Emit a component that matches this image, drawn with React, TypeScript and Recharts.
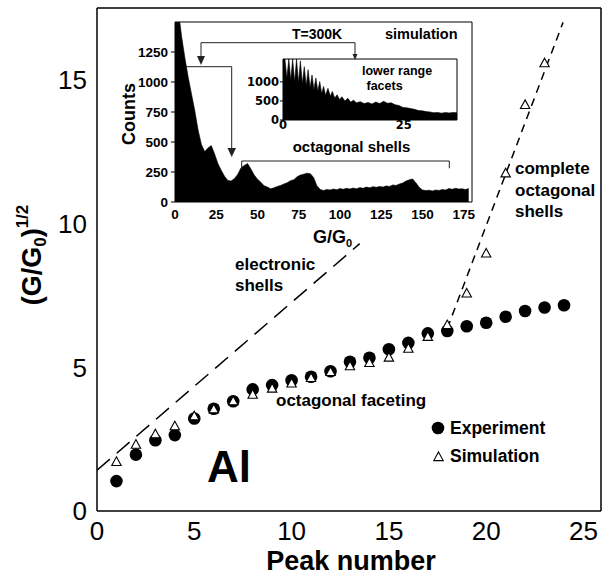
import React from 'react';
import { ComposedChart, Scatter, Line, XAxis, YAxis, AreaChart, Area } from 'recharts';

const FONT = '"Liberation Sans", Arial, Helvetica, sans-serif';
const WIDE = '"DejaVu Sans", Verdana, sans-serif';

// ---- main chart data ----
const peakNumbers = [1, 2, 3, 4, 5, 6, 7, 8, 9, 10, 11, 12, 13, 14, 15, 16, 17, 18, 19, 20, 21, 22, 23, 24];
const experimentValues = [1.04, 1.96, 2.46, 2.64, 3.22, 3.56, 3.82, 4.23, 4.38, 4.55, 4.67, 4.86, 5.19, 5.33, 5.63, 5.85, 6.18, 6.26, 6.43, 6.55, 6.76, 6.96, 7.08, 7.16];
const simulationValues = [1.71, 2.31, 2.67, 2.95, 3.3, 3.54, 3.82, 4.05, 4.26, 4.44, 4.63, 4.84, 5.04, 5.15, 5.34, 5.65, 6.06, 6.47, 7.57, 8.96, 11.75, 14.13, 15.58];
const electronicShellsLine = [{ x: 0, y: 1.42 }, { x: 13.5, y: 9.3 }];
const octagonalShellsLine = [{ x: 18.0, y: 6.35 }, { x: 23.95, y: 17.0 }];
const xTicks = [0, 5, 10, 15, 20, 25];
const yTicks = [0, 5, 10, 15];
const yMinorTicks = [0, 2.5, 5, 7.5, 10, 12.5, 15, 17.5];

// ---- inset histogram (G/G0 vs counts) ----
const histG = [0, 2, 4, 6, 8, 10, 12, 14, 16, 18, 20, 22, 24, 26, 28, 30, 32, 34, 36, 38, 40, 42, 44, 46, 48, 50, 52, 54, 56, 58, 60, 62, 64, 66, 68, 70, 72, 74, 76, 78, 80, 82, 84, 86, 88, 90, 92, 94, 96, 98, 100, 102, 104, 106, 108, 110, 112, 114, 116, 118, 120, 122, 124, 126, 128, 130, 132, 134, 136, 138, 140, 142, 144, 146, 148, 150, 152, 154, 156, 158, 160, 162, 164, 166, 168, 170, 172, 174, 176, 178];
const histCounts = [1600, 1600, 1380, 1200, 1040, 900, 760, 600, 480, 420,
  450, 470, 400, 320, 265, 215, 180, 175, 195, 230,
  285, 305, 320, 275, 225, 190, 165, 135, 125, 110,
  118, 130, 138, 150, 160, 178, 185, 210, 225, 232,
  240, 236, 205, 135, 105, 96, 104, 100, 108, 102,
  112, 106, 114, 108, 116, 110, 120, 114, 124, 118,
  128, 122, 130, 124, 134, 130, 142, 138, 150, 158,
  175, 185, 192, 160, 122, 100, 95, 98, 92, 100,
  96, 104, 100, 112, 106, 114, 108, 110, 104, 112];
const histXTicks = [0, 25, 50, 75, 100, 125, 150, 175];
const histYTicks = [0, 250, 500, 750, 1000, 1250];

// ---- inner inset: lower range facets ----
const lowG = [0, 0.4, 0.8, 1.2, 1.6, 2.0, 2.4, 2.8, 3.2, 3.6, 4.0, 4.4, 4.8, 5.2, 5.6, 6.0, 6.4, 6.8, 7.2, 7.6, 8.0, 8.4, 8.8,
  9.3, 9.8, 10.2, 10.7, 11.2, 11.7, 12.2,
  12.8, 13.4, 14, 14.6, 15.2,
  16, 16.8, 17.6, 18.4, 19.2, 20, 20.8, 21.6, 22.4, 23.2, 24, 24.8, 25.6, 26.4, 27.2, 28, 28.8, 29.6, 30.4, 31.2, 32, 32.8, 33.6, 34.4, 35.2, 36];
const lowCounts = [1600, 1600, 1100, 1600, 1050, 1600, 1000, 1600, 980, 1550, 950, 1400, 900, 1320, 850, 1180, 800, 1100, 760, 1010, 700, 880, 650,
  830, 620, 750, 580, 660, 540, 610,
  500, 570, 470, 520, 450,
  480, 430, 460, 420, 470, 430, 490, 440, 450, 400, 380, 330, 320, 300, 280, 250, 240, 220, 210, 190, 200, 180, 195, 185, 200, 190];
const lowXTicks = [0, 25];
const lowYTicks = [0, 500, 1000];

const experimentPoints = peakNumbers.map((x, i) => ({ x, y: experimentValues[i] }));
const simulationPoints = simulationValues.map((y, i) => ({ x: peakNumbers[i], y }));
const histData = histG.map((g, i) => ({ g, count: histCounts[i] }));
const lowData = lowG.map((g, i) => ({ g, count: lowCounts[i] }));

const CircleShape = (p: any) => <circle cx={p.cx} cy={p.cy} r={6.3} fill="#000" />;
const triPath = (cx: number, cy: number) => `M${cx},${cy - 5} L${cx + 4.7},${cy + 3.6} L${cx - 4.7},${cy + 3.6} Z`;
const TriangleShape = (p: any) => <path d={triPath(p.cx, p.cy)} fill="#fff" stroke="#000" strokeWidth={1.1} />;
const NoShape = () => <g />;

const axisStroke = { stroke: '#000', strokeWidth: 1.5 };
const thinStroke = { stroke: '#000', strokeWidth: 1 };

export default function App() {
  return (
    <div style={{ position: 'absolute', left: 0, top: 0, width: 602, height: 575, background: '#fff', overflow: 'hidden' }}>
      <div style={{ position: 'absolute', left: 0, top: 0 }}>
        <ComposedChart width={602} height={575} margin={{ top: 8, right: 1, bottom: 0, left: 0 }}>
          <XAxis xAxisId="bt" type="number" dataKey="x" orientation="bottom" mirror height={1} domain={[0, 25.9]} ticks={xTicks} allowDataOverflow tick={false} axisLine={false} tickSize={6} tickLine={axisStroke} />
          <XAxis xAxisId="top" type="number" dataKey="x" orientation="top" mirror height={1} domain={[0, 25.9]} ticks={xTicks} allowDataOverflow tick={false} axisLine={axisStroke} tickSize={6} tickLine={axisStroke} />
          <YAxis yAxisId="lt" type="number" dataKey="y" orientation="left" mirror width={1} domain={[0, 17.5]} ticks={yMinorTicks} allowDataOverflow tick={false} axisLine={false} tickSize={6} tickLine={axisStroke} />
          <YAxis yAxisId="rt" type="number" dataKey="y" orientation="right" mirror width={1} domain={[0, 17.5]} ticks={yMinorTicks} allowDataOverflow tick={false} axisLine={axisStroke} tickSize={6} tickLine={axisStroke} />
          <XAxis xAxisId="main" type="number" dataKey="x" domain={[0, 25.9]} ticks={xTicks} allowDataOverflow height={64} tickLine={false} tickSize={6} tickMargin={5} axisLine={axisStroke} tick={{ fontSize: 26, fill: '#000', fontFamily: FONT }} />
          <YAxis yAxisId="main" type="number" dataKey="y" domain={[0, 17.5]} ticks={yTicks} allowDataOverflow width={97} tickLine={false} tickSize={6} tickMargin={4} axisLine={axisStroke} tick={{ fontSize: 26, fill: '#000', fontFamily: FONT }} />
          {/* invisible items that bind the frame axes so they are drawn */}
          <Scatter xAxisId="bt" yAxisId="lt" data={experimentPoints} shape={NoShape} isAnimationActive={false} />
          <Scatter xAxisId="top" yAxisId="rt" data={experimentPoints} shape={NoShape} isAnimationActive={false} />
          <Line xAxisId="main" yAxisId="main" data={electronicShellsLine} dataKey="y" type="linear" stroke="#000" strokeWidth={1.5} strokeDasharray="17 9" dot={false} activeDot={false} isAnimationActive={false} />
          <Line xAxisId="main" yAxisId="main" data={octagonalShellsLine} dataKey="y" type="linear" stroke="#000" strokeWidth={1.5} strokeDasharray="8 6" dot={false} activeDot={false} isAnimationActive={false} />
          <Scatter xAxisId="main" yAxisId="main" data={experimentPoints} shape={CircleShape} isAnimationActive={false} />
          <Scatter xAxisId="main" yAxisId="main" data={simulationPoints} shape={TriangleShape} isAnimationActive={false} />
        </ComposedChart>
      </div>

      <div style={{ position: 'absolute', left: 100, top: 15 }}>
        <AreaChart width={380} height={230} data={histData} margin={{ top: 6, right: 7, left: 0, bottom: 0 }}>
          <XAxis xAxisId="top" type="number" dataKey="g" orientation="top" height={1} domain={[0, 180]} allowDataOverflow tick={false} tickLine={false} axisLine={thinStroke} />
          <YAxis yAxisId="right" type="number" orientation="right" width={1} domain={[0, 1500]} ticks={histYTicks} allowDataOverflow tick={false} tickSize={4} tickLine={thinStroke} axisLine={thinStroke} />
          <XAxis type="number" dataKey="g" domain={[0, 180]} ticks={histXTicks} allowDataOverflow height={43} tickLine={false} tickSize={3} tickMargin={4} axisLine={thinStroke} tick={{ fontSize: 13.5, fontWeight: 'bold', fill: '#000', fontFamily: FONT }} />
          <YAxis type="number" domain={[0, 1500]} ticks={histYTicks} allowDataOverflow width={75} tickSize={4} tickMargin={3} tickLine={thinStroke} axisLine={thinStroke} tick={{ fontSize: 13.5, fontWeight: 'bold', fill: '#000', fontFamily: FONT }} />
          <Line xAxisId="top" yAxisId="right" dataKey="count" stroke="none" dot={false} activeDot={false} isAnimationActive={false} />
          <Area dataKey="count" type="linear" stroke="#000" strokeWidth={0.6} fill="#000" fillOpacity={1} dot={false} activeDot={false} isAnimationActive={false} />
        </AreaChart>
      </div>

      <div style={{ position: 'absolute', left: 230, top: 50 }}>
        <AreaChart width={232} height={82} data={lowData} margin={{ top: 8, right: 4, left: 0, bottom: 0 }}>
          <XAxis xAxisId="top" type="number" dataKey="g" orientation="top" height={1} domain={[0, 36]} allowDataOverflow tick={false} tickLine={false} axisLine={thinStroke} />
          <YAxis yAxisId="right" type="number" orientation="right" width={1} domain={[0, 1600]} allowDataOverflow tick={false} tickLine={false} axisLine={thinStroke} />
          <XAxis type="number" dataKey="g" domain={[0, 36]} ticks={lowXTicks} allowDataOverflow height={12} tickLine={false} tickSize={0} tickMargin={1} axisLine={thinStroke} tick={{ fontSize: 11.5, fontWeight: 'bold', fill: '#000', fontFamily: WIDE }} />
          <YAxis type="number" domain={[0, 1600]} ticks={lowYTicks} allowDataOverflow width={53} tickSize={3} tickMargin={1} tickLine={thinStroke} axisLine={thinStroke} tick={{ fontSize: 11.5, fontWeight: 'bold', fill: '#000', fontFamily: WIDE }} />
          <Line xAxisId="top" yAxisId="right" dataKey="count" stroke="none" dot={false} activeDot={false} isAnimationActive={false} />
          <Area dataKey="count" type="linear" stroke="#000" strokeWidth={0.6} fill="#000" fillOpacity={1} dot={false} activeDot={false} isAnimationActive={false} />
        </AreaChart>
      </div>

      <svg width={602} height={575} style={{ position: 'absolute', left: 0, top: 0, pointerEvents: 'none' }} fontFamily={FONT} fill="#000">
        {/* axis titles */}
        <text transform="translate(41,255) rotate(-90)" textAnchor="middle" fontSize={27} fontWeight="bold">
          (G/G<tspan fontSize={17} dy={5}>0</tspan><tspan dy={-5}>)</tspan><tspan fontSize={17} dy={-13}>1/2</tspan>
        </text>
        <text x={351} y={570} textAnchor="middle" fontSize={27} fontWeight="bold">Peak number</text>

        {/* main annotations */}
        <text x={235} y={270} fontSize={17} fontWeight="bold">electronic</text>
        <text x={235} y={291} fontSize={17} fontWeight="bold">shells</text>
        <text x={515} y={174} fontSize={17} fontWeight="bold">complete</text>
        <text x={515} y={196} fontSize={17} fontWeight="bold">octagonal</text>
        <text x={515} y={217} fontSize={17} fontWeight="bold">shells</text>
        <text x={276} y={406} fontSize={17} fontWeight="bold">octagonal faceting</text>
        <text x={207} y={482} fontSize={44} fontWeight="bold">Al</text>

        {/* legend */}
        <circle cx={438} cy={428} r={6.3} fill="#000" />
        <text x={450} y={434} fontSize={17.5} fontWeight="bold">Experiment</text>
        <path d={triPath(438.5, 457)} fill="#fff" stroke="#000" strokeWidth={1.1} />
        <text x={450} y={462} fontSize={17.5} fontWeight="bold">Simulation</text>

        {/* inset texts */}
        <text x={292} y={38.5} fontSize={14} fontWeight="bold">T=300K</text>
        <text x={385} y={38.5} fontSize={14.5} fontWeight="bold">simulation</text>
        <text x={362} y={75} fontSize={12.5} fontWeight="bold">lower range</text>
        <text x={366.5} y={89.5} fontSize={12.5} fontWeight="bold">facets</text>
        <text x={292.7} y={152} fontSize={15} fontWeight="bold">octagonal shells</text>
        <text transform="translate(135,114) rotate(-90)" textAnchor="middle" fontSize={18} fontWeight="bold">Counts</text>
        <text x={313} y={243} fontSize={18} fontWeight="bold">G/G<tspan fontSize={11} dy={4}>0</tspan></text>

        {/* inset arrows and bracket */}
        <g stroke="#222" strokeWidth={1} fill="none">
          <path d="M201,58 V42.7 H355 V55" />
          <path d="M186,66.7 H231.7 V149" />
          <path d="M241.7,169.3 V161 H449.3 V168.3" />
        </g>
        <polygon points="197,56 205,56 201,65" fill="#222" />
        <polygon points="352.5,54 357.5,54 355,60" fill="#222" />
        <polygon points="227.5,148 236,148 231.7,157" fill="#222" />
      </svg>
    </div>
  );
}
